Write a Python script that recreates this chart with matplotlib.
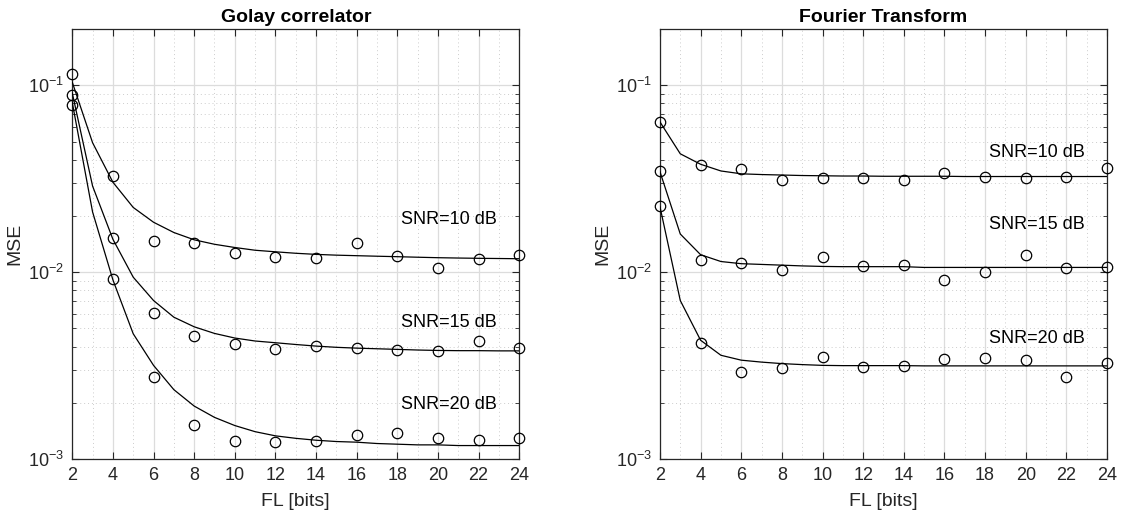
import matplotlib
matplotlib.use("Agg")
import matplotlib.pyplot as plt
from matplotlib.ticker import LogLocator, MultipleLocator, NullFormatter

plt.rcParams['font.family'] = ['Liberation Sans', 'DejaVu Sans']
plt.rcParams['mathtext.fontset'] = 'custom'
plt.rcParams['mathtext.rm'] = 'Liberation Sans'
plt.rcParams['mathtext.it'] = 'Liberation Sans'

# ---------------- data ----------------
x_curve = list(range(2, 25))
x_mark = list(range(2, 25, 2))

titles = ["Golay correlator", "Fourier Transform"]
snr_labels = ["SNR=10 dB", "SNR=15 dB", "SNR=20 dB"]

# Golay correlator: fitted curves
golay_c10 = [0.104, 0.0493, 0.0303, 0.0222, 0.0185, 0.0163, 0.0149, 0.0141, 0.01355, 0.0131,
             0.01285, 0.01262, 0.01245, 0.01233, 0.01225, 0.01217, 0.0121, 0.01202, 0.01195,
             0.0119, 0.01186, 0.01183, 0.0118]
golay_c15 = [0.091, 0.0289, 0.0150, 0.0094, 0.00705, 0.00574, 0.0051, 0.0047, 0.00444, 0.00428,
             0.00419, 0.0041, 0.00402, 0.00396, 0.00392, 0.00389, 0.00386, 0.00383, 0.00381,
             0.0038, 0.0038, 0.00379, 0.00379]
golay_c20 = [0.081, 0.021, 0.0091, 0.00468, 0.00317, 0.00235, 0.00192, 0.00167, 0.00151, 0.0014,
             0.00133, 0.00129, 0.00126, 0.00124, 0.00123, 0.00121, 0.0012, 0.00119, 0.00119,
             0.00118, 0.00118, 0.00118, 0.00118]
# Golay correlator: simulated points
golay_m10 = [0.1145, 0.0329, 0.0147, 0.01428, 0.01259, 0.0121, 0.0119, 0.01428, 0.01225,
             0.01052, 0.01175, 0.0124]
golay_m15 = [0.0892, 0.0153, 0.00605, 0.00453, 0.0041, 0.00387, 0.00402, 0.00391, 0.00381,
             0.00377, 0.00426, 0.00393]
golay_m20 = [0.0789, 0.00914, 0.00273, 0.00152, 0.00125, 0.00124, 0.00125, 0.00134, 0.00138,
             0.00129, 0.00127, 0.00129]

# Fourier Transform: fitted curves
ft_c10 = [0.0637, 0.043, 0.0378, 0.0348, 0.0336, 0.0333, 0.0331, 0.0329, 0.0328, 0.0327,
          0.0327, 0.0326, 0.0326, 0.0326, 0.0326, 0.0325, 0.0325, 0.0325, 0.0325, 0.0325,
          0.0325, 0.0325, 0.0325]
ft_c15 = [0.0345, 0.016, 0.0124, 0.0114, 0.0111, 0.011, 0.0109, 0.0108, 0.01073, 0.0107,
          0.0107, 0.0107, 0.0107, 0.0106, 0.0106, 0.0106, 0.0106, 0.0106, 0.0106, 0.0106,
          0.0106, 0.0106, 0.0106]
ft_c20 = [0.0224, 0.00705, 0.00432, 0.00359, 0.00338, 0.0033, 0.00324, 0.0032, 0.00317, 0.00316,
          0.00316, 0.00316, 0.00316, 0.00315, 0.00315, 0.00315, 0.00315, 0.00315, 0.00315,
          0.00315, 0.00315, 0.00315, 0.00315]
# Fourier Transform: simulated points
ft_m10 = [0.0637, 0.0373, 0.0357, 0.0310, 0.0318, 0.0321, 0.0310, 0.0338, 0.0325, 0.0319,
          0.0325, 0.0362]
ft_m15 = [0.0348, 0.01161, 0.01124, 0.01025, 0.0120, 0.0108, 0.01096, 0.00912, 0.01008,
          0.0123, 0.01047, 0.01063]
ft_m20 = [0.0226, 0.0042, 0.00292, 0.00306, 0.00351, 0.0031, 0.00313, 0.00341, 0.00347,
          0.00337, 0.00273, 0.00328]

# label positions (data coordinates)
golay_label_pos = [(18.2, 0.0192), (18.2, 0.00536), (18.2, 0.00196)]
ft_label_pos = [(18.2, 0.0435), (18.2, 0.0181), (18.2, 0.0044)]

panels = [
    (titles[0], [golay_c10, golay_c15, golay_c20], [golay_m10, golay_m15, golay_m20], golay_label_pos),
    (titles[1], [ft_c10, ft_c15, ft_c20], [ft_m10, ft_m15, ft_m20], ft_label_pos),
]

# ---------------- figure ----------------
fig = plt.figure(figsize=(11.22, 5.23), dpi=100)
ax_rects = [[0.0644, 0.1224, 0.3984, 0.822], [0.5882, 0.1224, 0.3984, 0.822]]
dark = '#262626'

for rect, (title, curves, marks, lpos) in zip(ax_rects, panels):
    ax = fig.add_axes(rect)
    ax.set_yscale('log')
    for c, m, (tx, ty), lab in zip(curves, marks, lpos, snr_labels):
        ax.plot(x_curve, c, color='black', lw=0.9, zorder=3)
        ax.plot(x_mark, m, linestyle='none', marker='o', markersize=7.5,
                markerfacecolor='none', markeredgecolor='black', markeredgewidth=0.9,
                clip_on=False, zorder=4)
        ax.text(tx, ty, lab, fontsize=13, color='black', ha='left', va='center')
    ax.set_xlim(2, 24)
    ax.set_ylim(1e-3, 0.2)
    ax.xaxis.set_major_locator(MultipleLocator(2))
    ax.xaxis.set_minor_locator(MultipleLocator(1))
    ax.yaxis.set_major_locator(LogLocator(base=10, numticks=10))
    ax.yaxis.set_minor_locator(LogLocator(base=10, subs=range(2, 10), numticks=20))
    ax.yaxis.set_minor_formatter(NullFormatter())
    ax.grid(True, which='major', color='#dcdcdc', lw=0.9, ls='-')
    ax.grid(True, which='minor', color='#cccccc', lw=0.7, ls=(0, (1, 3)))
    ax.set_axisbelow(True)
    ax.tick_params(axis='both', which='major', direction='in', length=5, width=0.8,
                   colors=dark, labelsize=13, top=True, right=True, pad=6)
    ax.tick_params(axis='y', which='minor', direction='in', length=3, width=0.6,
                   colors=dark, right=True)
    ax.tick_params(axis='x', which='minor', length=0)
    for sp in ax.spines.values():
        sp.set_color(dark)
        sp.set_linewidth(0.9)
    ax.set_xlabel('FL [bits]', fontsize=14, color=dark, labelpad=6)
    ax.set_ylabel('MSE', fontsize=14, color=dark, labelpad=3)
    ax.set_title(title, fontsize=14, fontweight='bold', color='black', pad=5)

fig.savefig('out.png', dpi=100)
